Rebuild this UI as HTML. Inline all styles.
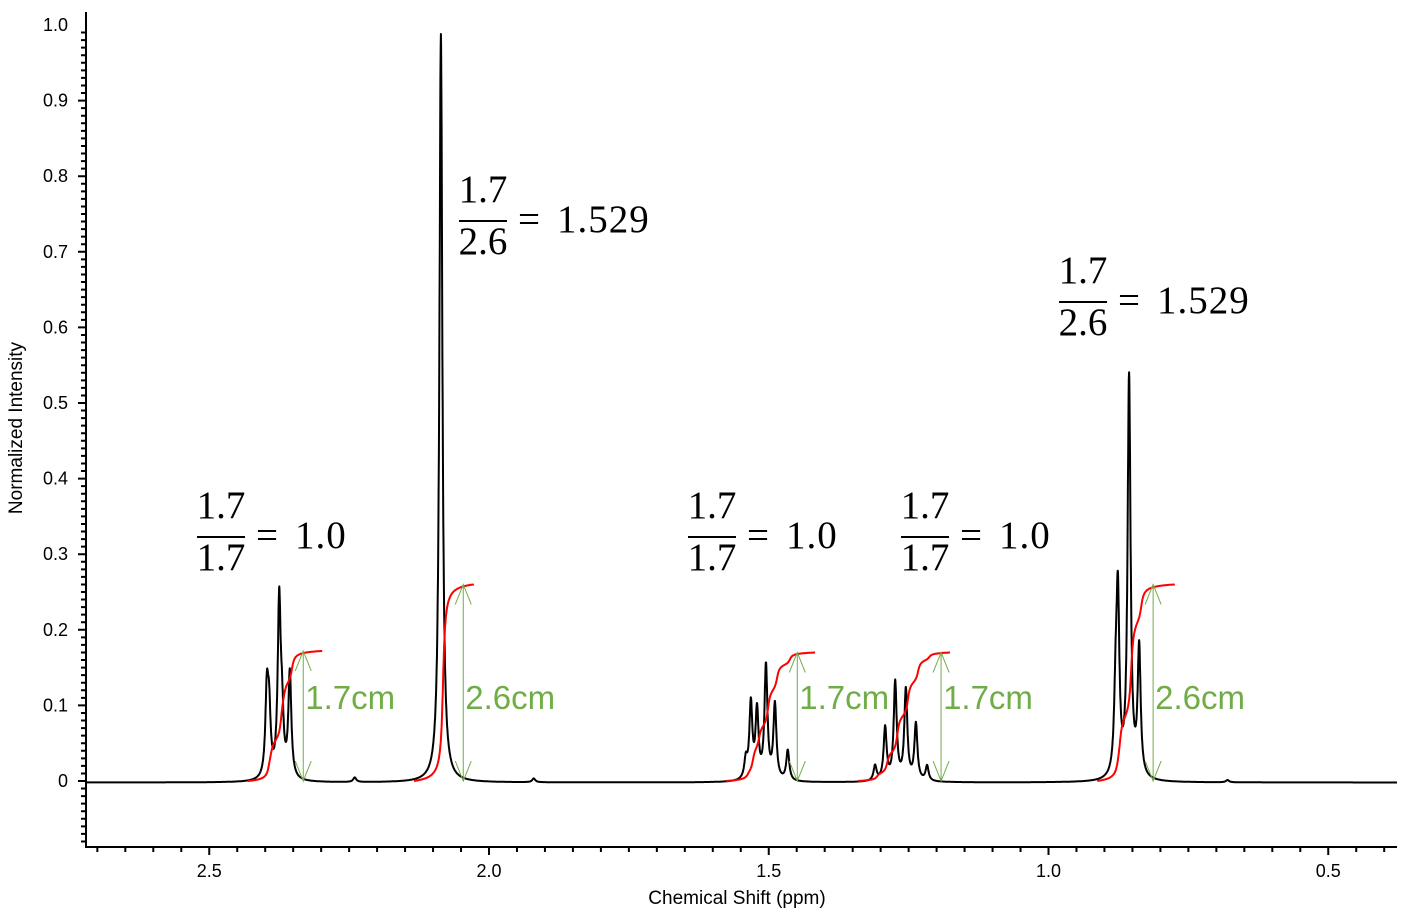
<!DOCTYPE html>
<html><head><meta charset="utf-8"><style>
body{margin:0;background:#fff}
svg{display:block}
.ax{font-family:"Liberation Sans",sans-serif;font-size:18px;fill:#000}
.at{font-family:"Liberation Sans",sans-serif;font-size:19px;fill:#000}
.fr{font-family:"Liberation Serif",serif;font-size:39px;fill:#000}
.gl{font-family:"Liberation Sans",sans-serif;font-size:33px;fill:#70ad47}
</style></head><body>
<svg id="c" width="1401" height="914" xmlns="http://www.w3.org/2000/svg"></svg>
<script>
const peakPpm=[2.397,2.393,2.375,2.370,2.356,2.086,2.24,1.92,1.541,1.532,1.521,1.505,1.489,1.466,1.310,1.292,1.274,1.255,1.237,1.217,0.880,0.876,0.856,0.838,0.68];
const peakHeight=[0.11,0.08,0.23,0.07,0.14,0.99,0.006,0.005,0.025,0.1,0.09,0.15,0.1,0.04,0.02,0.07,0.13,0.12,0.075,0.02,0.09,0.23,0.53,0.17,0.003];
const integStart=[2.431,2.134,1.576,1.340,0.913];
const integEnd=[2.298,2.027,1.417,1.176,0.774];
const integHeight=[0.172,0.26,0.17,0.17,0.26];
const arrowPpm=[2.332,2.046,1.449,1.192,0.813];
const arrowLabels=["1.7cm","2.6cm","1.7cm","1.7cm","2.6cm"];
const fracNum=["1.7","1.7","1.7","1.7","1.7"];
const fracDen=["1.7","2.6","1.7","1.7","2.6"];
const fracRes=["1.0","1.529","1.0","1.0","1.529"];
const fracX=[197,459,688,901,1059];
const fracY=[537,221,537,537,302];
const xTicks=[2.5,2.0,1.5,1.0,0.5];
const xTickLabels=["2.5","2.0","1.5","1.0","0.5"];
const yTicks=[0,0.1,0.2,0.3,0.4,0.5,0.6,0.7,0.8,0.9,1.0];
const yTickLabels=["0","0.1","0.2","0.3","0.4","0.5","0.6","0.7","0.8","0.9","1.0"];

const NS="http://www.w3.org/2000/svg";
const svg=document.getElementById('c');
const X0=86,X1=1397,Y0=847,YT=12;
const xs=p=>489+(2.0-p)*559.5;
const ys=v=>781-v*756;
function mk(t,a,par){const e=document.createElementNS(NS,t);for(const k in a)e.setAttribute(k,a[k]);(par||svg).appendChild(e);return e;}
let e=mk('path',{d:`M${X0} ${YT}V${Y0}H${X1}`,stroke:'#000','stroke-width':2,fill:'none'});


let d='';
for(let i=-8;i<=99;i++){const v=i/100;const y=ys(v);if(y<YT||y>Y0)continue;const L=(i%10===0)?8:5;d+=`M${X0} ${y}h${-L}`;}
for(let i=Math.ceil(0.377/0.05);i<=Math.floor(2.72/0.05);i++){const p=i*0.05;const x=xs(p);const L=(i%10===0)?8:5;d+=`M${x} ${Y0}v${L}`;}
e=mk('path',{d:d,stroke:'#000','stroke-width':2});


yTicks.forEach((v,i)=>{const t=mk('text',{x:68,y:ys(v)+6,'text-anchor':'end',class:'ax'});t.textContent=yTickLabels[i];

});
xTicks.forEach((v,i)=>{const t=mk('text',{x:xs(v),y:877,'text-anchor':'middle',class:'ax'});t.textContent=xTickLabels[i];

});
e=mk('text',{x:737,y:904,'text-anchor':'middle',class:'at'});e.textContent='Chemical Shift (ppm)';


e=mk('text',{x:0,y:0,'text-anchor':'middle',class:'at',transform:'translate(22,428) rotate(-90)'});e.textContent='Normalized Intensity';


const W=0.0032;
function spec(p){let s=0;for(let i=0;i<peakPpm.length;i++){const dx=(p-peakPpm[i])/W;s+=peakHeight[i]/(1+dx*dx);}return s;}
let pts=[];const step=0.0004;
for(let p=2.72;p>=0.377;p-=step){pts.push(xs(p).toFixed(1)+','+ys(spec(p)-0.002).toFixed(1));}
e=mk('polyline',{points:pts.join(' '),fill:'none',stroke:'#000','stroke-width':2,'stroke-linejoin':'round'});


integStart.forEach((a,k)=>{const b=integEnd[k];let c=[],s=0;const ps=[];for(let p=a;p>=b;p-=step){s+=spec(p+0.004);c.push(s);ps.push(p);}
const tot=s;const q=ps.map((p,i)=>xs(p).toFixed(1)+','+ys(c[i]/tot*integHeight[k]).toFixed(1));
const l=mk('polyline',{points:q.join(' '),fill:'none',stroke:'#f00','stroke-width':2});


const x=xs(arrowPpm[k]),yt=ys(integHeight[k]),yb=ys(0);
const g=mk('path',{d:`M${x} ${yb}V${yt}M${x-8} ${yt+20}L${x} ${yt}L${x+8} ${yt+20}M${x-8} ${yb-20}L${x} ${yb}L${x+8} ${yb-20}`,fill:'none',stroke:'#70ad47','stroke-width':1});


const t=mk('text',{x:x+2,y:709,class:'gl'});t.textContent=arrowLabels[k];

});
fracX.forEach((x,k)=>{const y=fracY[k];
let t=mk('text',{x:x+24,y:y-19,'text-anchor':'middle',class:'fr'});t.textContent=fracNum[k];


t=mk('text',{x:x+24,y:y+33,'text-anchor':'middle',class:'fr'});t.textContent=fracDen[k];


const l=mk('line',{x1:x,x2:x+48,y1:y,y2:y,stroke:'#000','stroke-width':2});


t=mk('text',{x:x+59,y:y+11,class:'fr'});t.textContent='=';


t=mk('text',{x:x+98,y:y+11,class:'fr','letter-spacing':'1'});t.textContent=fracRes[k];

});
</script>
</body></html>
